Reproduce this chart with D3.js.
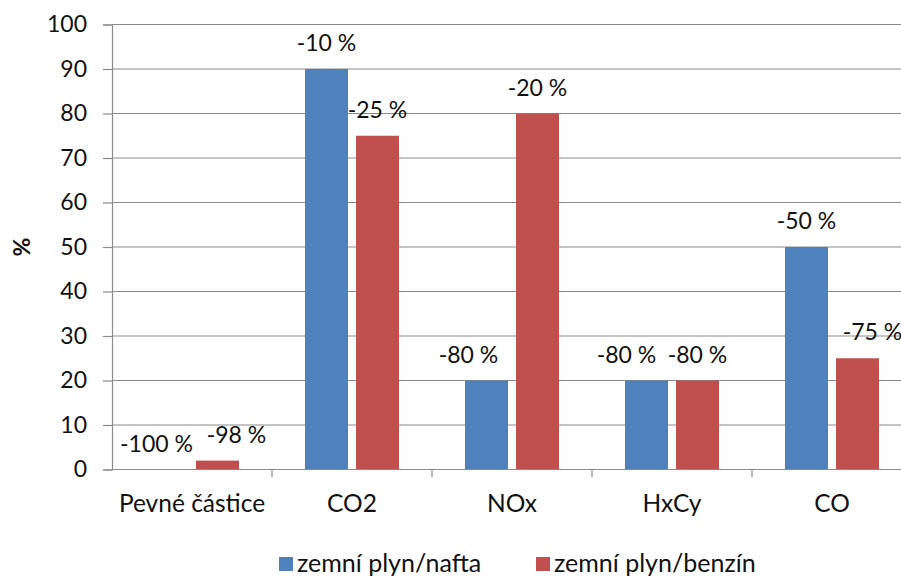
<!DOCTYPE html>
<html>
<head>
<meta charset="utf-8">
<script src="https://cdn.jsdelivr.net/npm/d3@7"></script>
<style>
  html, body { margin: 0; padding: 0; background: #fff; }
  svg { display: block; font-family: Lato, "Open Sans", sans-serif; }
</style>
</head>
<body>
<svg id="chart" width="901" height="576"></svg>
<script>
// Emission categories and the two fuel comparisons (values in %)
const categories = ["Pevné částice", "CO2", "NOx", "HxCy", "CO"];
const seriesNames = ["zemní plyn/nafta", "zemní plyn/benzín"];
const naftaValues = [0, 90, 20, 20, 50];
const benzinValues = [2, 75, 80, 20, 25];
const naftaLabels = ["-100 %", "-10 %", "-80 %", "-80 %", "-50 %"];
const benzinLabels = ["-98 %", "-25 %", "-20 %", "-80 %", "-75 %"];
const yTicks = [0, 10, 20, 30, 40, 50, 60, 70, 80, 90, 100];

const colors = ["#4F81BD", "#C0504D"];
const gridColor = "#8a8a8a";
const textColor = "#111";

const svg = d3.select("#chart");
const plot = { left: 112, right: 912, top: 24.5, bottom: 469.5 };

const x = d3.scaleBand().domain(categories).range([plot.left, plot.right]).padding(0);
const xInner = d3.scaleBand().domain(seriesNames).range([0, x.bandwidth()])
  .paddingInner(8 / 51).paddingOuter(0.647);
const y = d3.scaleLinear().domain([0, 100]).range([plot.bottom, plot.top]);

// Horizontal gridlines
svg.append("g")
  .selectAll("line")
  .data(yTicks.filter(d => d > 0))
  .join("line")
  .attr("x1", plot.left).attr("x2", plot.right)
  .attr("y1", d => y(d)).attr("y2", d => y(d))
  .attr("stroke", gridColor).attr("stroke-width", 1.2);

// Bars
const series = [
  { name: seriesNames[0], values: naftaValues, labels: naftaLabels, color: colors[0] },
  { name: seriesNames[1], values: benzinValues, labels: benzinLabels, color: colors[1] }
];

series.forEach(s => {
  svg.append("g")
    .selectAll("rect")
    .data(categories.map((c, i) => ({ c, v: s.values[i] })))
    .join("rect")
    .attr("x", d => x(d.c) + xInner(s.name))
    .attr("width", xInner.bandwidth())
    .attr("y", d => y(d.v))
    .attr("height", d => y(0) - y(d.v))
    .attr("fill", s.color);
});

// Y axis
const yAxis = d3.axisLeft(y).tickValues(yTicks).tickSize(9).tickPadding(16);
const gy = svg.append("g").attr("transform", `translate(${plot.left},0)`).call(yAxis);
gy.select(".domain").attr("stroke", gridColor).attr("stroke-width", 1.2);
gy.selectAll(".tick line").attr("stroke", gridColor).attr("stroke-width", 1.2);
gy.selectAll(".tick text").attr("fill", textColor)
  .style("font-size", "23px").attr("font-family", "Lato, sans-serif");

// X axis baseline with ticks at category boundaries
svg.append("line")
  .attr("x1", plot.left).attr("x2", plot.right)
  .attr("y1", y(0)).attr("y2", y(0))
  .attr("stroke", gridColor).attr("stroke-width", 1.2);
svg.append("g")
  .selectAll("line")
  .data(categories.slice(1))
  .join("line")
  .attr("x1", d => x(d)).attr("x2", d => x(d))
  .attr("y1", y(0)).attr("y2", y(0) + 8)
  .attr("stroke", gridColor).attr("stroke-width", 1.2);

svg.append("g")
  .selectAll("text")
  .data(categories)
  .join("text")
  .attr("x", d => x(d) + x.bandwidth() / 2)
  .attr("y", 512)
  .attr("text-anchor", "middle")
  .attr("fill", textColor)
  .style("font-size", "24.5px")
  .text(d => d);

// Y axis title
svg.append("text")
  .attr("transform", `translate(30,${(plot.top + plot.bottom) / 2}) rotate(-90)`)
  .attr("text-anchor", "middle")
  .attr("fill", textColor)
  .style("font-size", "23px")
  .style("font-weight", "bold")
  .text("%");

// Value labels; a few are nudged sideways so neighbouring labels don't collide
const labelNudge = [
  [-10, 0, -18, -20, 0],
  [19, 0, 0, 0, 15]
];
series.forEach((s, si) => {
  svg.append("g")
    .selectAll("text")
    .data(categories.map((c, i) => ({ c, v: s.values[i], t: s.labels[i], i })))
    .join("text")
    .attr("x", d => x(d.c) + xInner(s.name) + xInner.bandwidth() / 2 + labelNudge[si][d.i])
    .attr("y", d => y(d.v) - 18)
    .attr("text-anchor", "middle")
    .attr("fill", textColor)
    .style("font-size", "23px")
    .text(d => d.t);
});

// Legend
const legendItems = [
  { name: seriesNames[0], color: colors[0], x: 279 },
  { name: seriesNames[1], color: colors[1], x: 536 }
];
const lg = svg.append("g");
legendItems.forEach(it => {
  lg.append("rect")
    .attr("x", it.x).attr("y", 557)
    .attr("width", 14).attr("height", 14)
    .attr("fill", it.color);
  lg.append("text")
    .attr("x", it.x + 18).attr("y", 572)
    .attr("fill", textColor)
    .style("font-size", "25px")
    .text(it.name);
});
</script>
</body>
</html>
